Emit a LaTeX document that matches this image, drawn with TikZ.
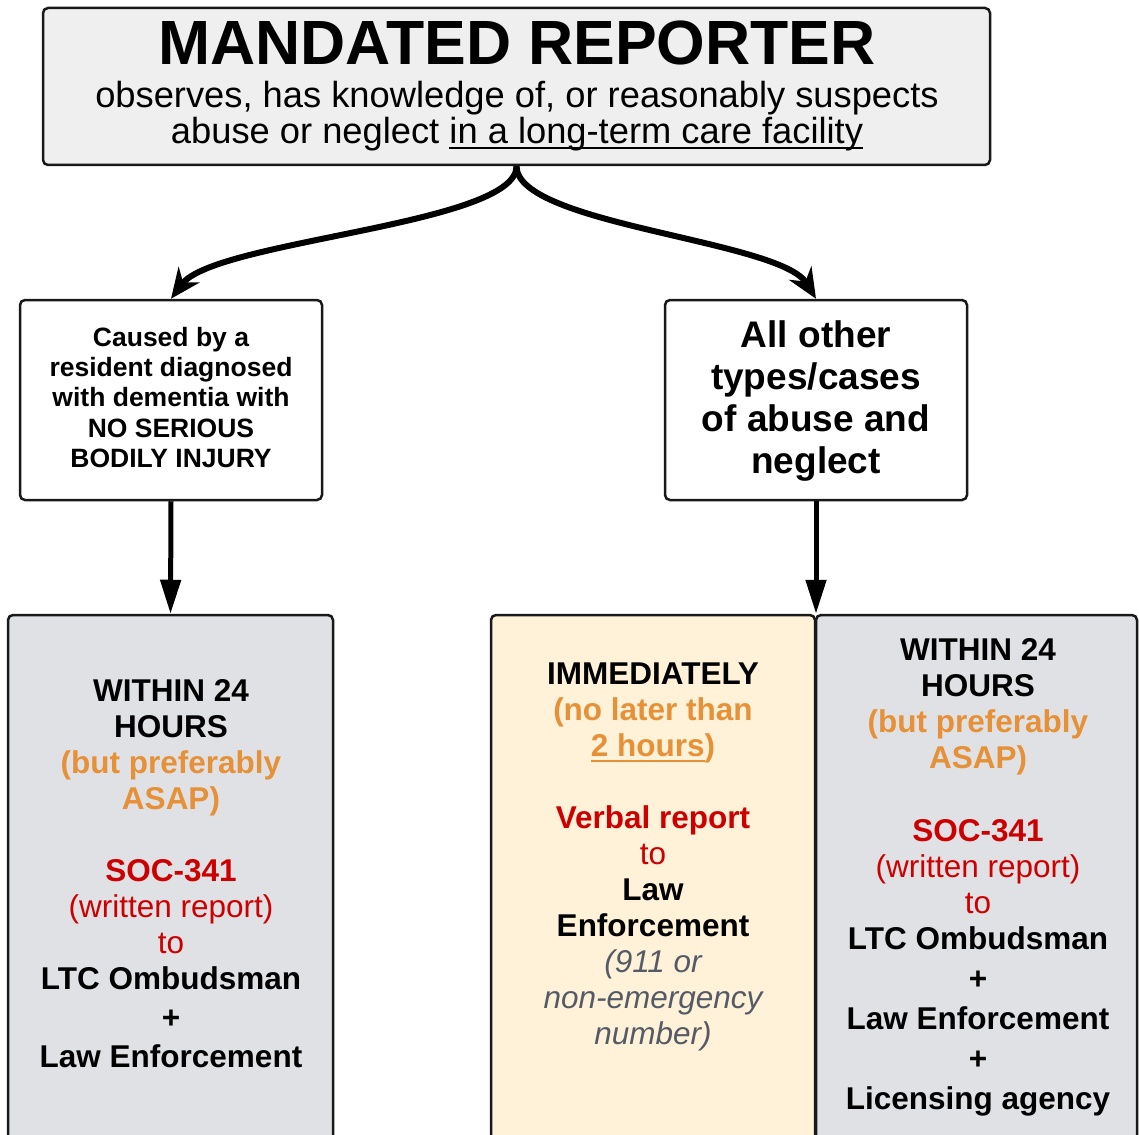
\documentclass[tikz,border=0pt]{standalone}
\usepackage{fontspec}
\setmainfont{Liberation Sans}
\usepackage{xcolor}
\usepackage{tikz}
\usetikzlibrary{arrows.meta}
\usetikzlibrary{positioning}
\definecolor{boxgray}{HTML}{DFE1E5}
\definecolor{cream}{HTML}{FFF2D9}
\definecolor{topgray}{HTML}{EFEFEF}
\definecolor{asap}{HTML}{E69138}
\definecolor{socred}{HTML}{CC0000}
\definecolor{numgray}{HTML}{555B66}
\tikzset{>=latex}
\tikzstyle{box} = [rectangle, draw=black!90, line width=2.5pt, rounded corners=5pt, inner sep=0pt]
\tikzstyle{txt} = [align=center, inner sep=0pt, anchor=north]
\tikzstyle{big} = [font=\fontsize{31.5}{36}\selectfont\bfseries]
\tikzstyle{split} = [-{Stealth[length=30pt,width=26pt]}, line width=6pt]
\tikzstyle{down} = [-{Triangle[length=34pt,width=20pt]}, line width=5pt]
\newcommand{\orng}[1]{\textcolor{asap}{#1}}
\newcommand{\rd}[1]{\textcolor{socred}{#1}}
\newsavebox{\ulbox}
\newcommand{\ul}[1]{\sbox{\ulbox}{#1}\rlap{\rule[-5pt]{\wd\ulbox}{2pt}}\usebox{\ulbox}}

\begin{document}
\begin{tikzpicture}[x=1pt, y=-1pt]
\path[use as bounding box] (0,0) rectangle (1139,1134);
\clip (0,0) rectangle (1139,1134);

% top box
\node [box, fill=topgray, minimum width=947, minimum height=157] (MR) at (516.5,86.5) {};
\node [txt, font=\fontsize{62.5}{64}\selectfont\bfseries] (MRt) at (517,21) {MANDATED REPORTER};
\node [txt, font=\fontsize{36.3}{36}\selectfont] (MRs) at (517,81)
  {observes, has knowledge of, or reasonably suspects\\abuse or neglect \ul{in a long-term care facility}};

% the two cases
\node [box, fill=white, minimum width=302, minimum height=200] (DEM) at (171,400) {};
\node [txt, font=\fontsize{26.5}{30.2}\selectfont\bfseries] (DEMt) at (171,327)
  {Caused by a\\resident diagnosed\\with dementia with\\NO SERIOUS\\BODILY INJURY};
\node [box, fill=white, minimum width=302, minimum height=200] (ALL) at (816,400) {};
\node [txt, font=\fontsize{37}{42}\selectfont\bfseries] (ALLt) at (816,320)
  {All other\\types/cases\\of abuse and\\neglect};

\draw [split] (MR.south) .. controls (517,225) and (215,240) .. (DEM.north);
\draw [split] (MR.south) .. controls (517,225) and (780,240) .. (ALL.north);

% reporting boxes
\node [box, fill=boxgray, minimum width=325, minimum height=535] (W1) at (170.5,882.5) {};
\node [box, fill=cream, minimum width=324, minimum height=535] (IMM) at (653,882.5) {};
\node [box, fill=boxgray, minimum width=321, minimum height=535] (W2) at (976.5,882.5) {};

\draw [down] (DEM.south) -- (W1.north);
\draw [down] (ALL.south) -- (ALL.south |- IMM.north);

\node [txt, big] (W1t) at (171,679)
  {WITHIN 24\\HOURS\\\orng{(but preferably}\\\orng{ASAP)}\\[36pt]
   \rd{SOC-341}\\\rd{\mdseries(written report)}\\\rd{\mdseries to}\\
   LTC Ombudsman\\[3pt]+\\[3pt]Law Enforcement};
\node [txt, big] (IMMt) at (653,663)
  {IMMEDIATELY\\\orng{(no later than}\\\orng{\ul{2 hours})}\\[36pt]
   \rd{Verbal report}\\\rd{\mdseries to}\\Law\\Enforcement\\
   \textcolor{numgray}{\mdseries\itshape(911 or}\\
   \textcolor{numgray}{\mdseries\itshape non-emergency}\\
   \textcolor{numgray}{\mdseries\itshape number)}};
\node [txt, big] (W2t) at (978,638)
  {WITHIN 24\\HOURS\\\orng{(but preferably}\\\orng{ASAP)}\\[37pt]
   \rd{SOC-341}\\\rd{\mdseries(written report)}\\\rd{\mdseries to}\\
   LTC Ombudsman\\[4pt]+\\[4pt]Law Enforcement\\[4pt]+\\[4pt]Licensing agency};
\end{tikzpicture}
\end{document}
